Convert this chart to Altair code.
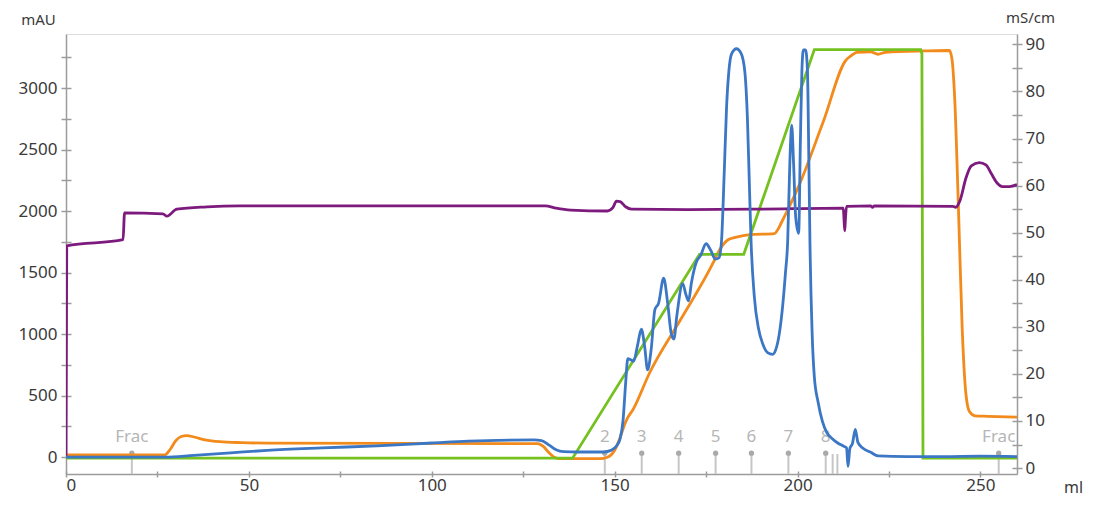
import altair as alt
import pandas as pd

# ---------------- data ----------------
blue_ml = [0, 27, 35, 45, 55, 70, 85, 100, 110, 118, 128, 130, 132, 134, 136, 140, 147, 149, 150.5, 151.5, 152.3,
           153, 153.6, 154.5, 155.2, 156.2, 157.3, 158.2, 159, 160, 161, 162, 163.4, 164.5, 165.5, 166.2, 167,
           168.6, 169.5, 170.2, 171, 172.4, 173.5, 175, 176.3, 177.5, 178.5, 179.2, 180, 180.6, 181.2, 182,
           183.3, 184.6, 185.6, 186.3, 186.8, 187.3, 188.2, 189.3, 190.5, 191.8, 193.2, 194, 195, 196, 196.7,
           197.3, 197.9, 198.4, 198.9, 199.5, 200.3, 200.8, 201.2, 201.6, 202.2, 202.7, 203.1, 203.4, 204,
           204.6, 205.6, 206.8, 208, 209.5, 211, 212.5, 213.4, 213.8, 214.3, 215, 215.8, 216.5, 218, 220, 222,
           230, 240, 250, 260]
blue_mau = [0, 0, 15, 35, 55, 75, 92, 115, 130, 137, 140, 135, 100, 60, 45, 42, 42, 55, 90, 150, 300,
            600, 800, 790, 780, 900, 1040, 900, 710, 880, 1200, 1250, 1455, 1250, 1000, 960, 1150,
            1410, 1320, 1270, 1420, 1590, 1640, 1735, 1680, 1610, 1620, 1750, 2350, 2850, 3130, 3280,
            3320, 3280, 3130, 2750, 2250, 1750, 1300, 1050, 920, 850, 836, 870, 1000, 1250, 1500,
            1750, 2400, 2700, 2400, 1950, 1820, 2600, 3150, 3310, 3310, 3150, 2400, 1736, 1000,
            650, 450, 290, 200, 150, 115, 90, 75, -75, 70, 110, 225, 120, 70, 40, 10,
            5, 5, 8, 5]

orange_ml = [0, 27, 28.5, 30, 31.5, 33, 35, 38, 42, 48, 55, 129, 130.5, 132, 133.5, 135, 146, 148, 150, 151.5,
             152.5, 153.5, 155, 159.6, 168, 176.8, 178.3, 179.5, 181, 183, 187, 193.7, 194.5, 195.5, 200.5,
             207, 213.4, 214, 215, 216.2, 220, 222, 224, 235, 241.5, 242.2, 243, 244, 245, 246, 247, 248.5,
             252, 260]
orange_ms = [2.8, 2.8, 4, 5.8, 6.7, 6.9, 6.6, 6.0, 5.6, 5.4, 5.3, 5.2, 4.6, 3.3, 2.3, 2.0, 2.0, 2.3, 3.8, 6.5,
             8.8, 10.6, 12.4, 20.3, 31.5, 43.4, 45.8, 47.3, 48.5, 49.0, 49.6, 49.8, 50.5, 52, 60.2,
             73.5, 86.8, 87.2, 87.8, 88.3, 88.4, 87.9, 88.3, 88.6, 88.7, 87, 78, 55, 30, 16, 12, 11.1,
             11, 10.8]

green_ml = [0, 138.5, 173.2, 185.3, 204.6, 233.7, 234.0, 234.3, 260]
green_val = [2.1, 2.1, 45.4, 45.4, 88.9, 88.9, 88.0, 2.1, 2.1]

purple_ml = [0, 0.2, 15.6, 16.0, 26.5, 27.6, 30.3, 38.5, 47.5, 131, 134, 138, 148, 149.5, 150.5, 151.5, 153,
             154.6, 170, 190, 212.5, 212.7, 212.9, 213.1, 213.4, 220, 220.5, 221, 242.5, 243.2, 244.5, 246,
             247.5, 249.7, 251.5, 253, 254.5, 256, 258, 260]
purple_val = [2.5, 47.2, 48.5, 54.2, 54.0, 53.5, 55.0, 55.5, 55.7, 55.7, 55.2, 54.8, 54.6, 55.3, 56.7, 56.6, 55.5,
              55.0, 54.9, 55.0, 55.2, 53, 50.4, 53, 55.6, 55.7, 55.4, 55.7, 55.6, 55.4, 57, 61.5,
              64.2, 64.9, 64.4, 62.5, 60.6, 59.8, 59.8, 60.2]

frac_ml = [18, 147.3, 157.4, 167.5, 177.6, 187.4, 197.5, 207.7, 255]
frac_labels = ["Frac", "2", "3", "4", "5", "6", "7", "8", "Frac"]
extra_frac_ml = [209.6, 210.9]

x_ticks_major = [0, 50, 100, 150, 200, 250]
x_ticks_minor = [0, 25, 50, 75, 100, 125, 150, 175, 200, 225, 250]
left_major = [0, 500, 1000, 1500, 2000, 2500, 3000]
left_minor = [0, 250, 500, 750, 1000, 1250, 1500, 1750, 2000, 2250, 2500, 2750, 3000, 3250]
right_major = [0, 10, 20, 30, 40, 50, 60, 70, 80, 90]
right_minor = [0, 5, 10, 15, 20, 25, 30, 35, 40, 45, 50, 55, 60, 65, 70, 75, 80, 85, 90]

# ---------------- tables ----------------
blue_df = pd.DataFrame({"ml": blue_ml, "v": blue_mau})
orange_df = pd.DataFrame({"ml": orange_ml, "v": orange_ms})
green_df = pd.DataFrame({"ml": green_ml, "v": green_val})
purple_df = pd.DataFrame({"ml": purple_ml, "v": purple_val})
frac_df = pd.DataFrame({"ml": frac_ml, "label": frac_labels})
extra_df = pd.DataFrame({"ml": extra_frac_ml})

X_DOM = [0, 260]
LEFT_DOM = [-137, 3440]
RIGHT_DOM = [-1.26, 92.2]
W, H = 951, 440

AXIS_GREY = "#9c9c9c"
LABEL_COL = "#3a3a3a"
FONT = "Noto Sans"
LW = 2.8


def xs():
    return alt.Scale(domain=X_DOM, nice=False, zero=False)


def ls():
    return alt.Scale(domain=LEFT_DOM, nice=False, zero=False)


def rs():
    return alt.Scale(domain=RIGHT_DOM, nice=False, zero=False)


x_main_axis = alt.Axis(orient="bottom", values=x_ticks_major, ticks=False, labelPadding=3,
                       labelFontSize=17, labelColor=LABEL_COL, labelFont=FONT, format="d",
                       domainColor=AXIS_GREY, domainWidth=1.5, grid=False,
                       title="ml", titleAngle=0, titleX=1007, titleY=13, titleAlign="center",
                       titleBaseline="middle", titleFontSize=16, titleFontWeight="normal",
                       titleColor=LABEL_COL, titleFont=FONT)
x_tick_axis = alt.Axis(orient="bottom", values=x_ticks_minor, labels=False, domain=False, offset=-3,
                       tickSize=6, tickColor=AXIS_GREY, tickWidth=1.5, grid=False, title=None)

left_main_axis = alt.Axis(orient="left", values=left_major, ticks=False, labelPadding=9,
                          labelFontSize=17, labelColor=LABEL_COL, labelFont=FONT, format="d",
                          domainColor=AXIS_GREY, domainWidth=1.5, grid=False,
                          title="mAU", titleAngle=0, titleX=-28, titleY=-15, titleAlign="center",
                          titleBaseline="middle", titleFontSize=15, titleFontWeight="normal",
                          titleColor=LABEL_COL, titleFont=FONT)
left_tick_axis = alt.Axis(orient="left", values=left_minor, labels=False, domain=False, offset=-5,
                          tickSize=10, tickColor=AXIS_GREY, tickWidth=1.5, grid=False, title=None)

right_main_axis = alt.Axis(orient="right", values=right_major, ticks=False, labelPadding=8,
                           labelFontSize=17, labelColor=LABEL_COL, labelFont=FONT, format="d",
                           domainColor=AXIS_GREY, domainWidth=1.5, grid=False,
                           title="mS/cm", titleAngle=0, titleX=13, titleY=-17, titleAlign="center",
                           titleBaseline="middle", titleFontSize=15, titleFontWeight="normal",
                           titleColor=LABEL_COL, titleFont=FONT)
right_tick_axis = alt.Axis(orient="right", values=right_minor, labels=False, domain=False, offset=-5,
                           tickSize=10, tickColor=AXIS_GREY, tickWidth=1.5, grid=False, title=None)

# fraction markers
frac_rules = alt.Chart(frac_df).mark_rule(color="#c6c6c6", strokeWidth=2).encode(
    x=alt.X("ml:Q", scale=xs(), axis=x_tick_axis),
    y=alt.Y("bot:Q", scale=ls(), axis=left_tick_axis),
    y2="top:Q",
).transform_calculate(bot="-137", top="32")

extra_rules = alt.Chart(extra_df).mark_rule(color="#c6c6c6", strokeWidth=2).encode(
    x=alt.X("ml:Q", scale=xs(), axis=None),
    y=alt.Y("bot:Q", scale=ls(), axis=None),
    y2="top:Q",
).transform_calculate(bot="-137", top="25")

frac_dots = alt.Chart(frac_df).mark_circle(color="#a9a9a9", size=28, opacity=1).encode(
    x=alt.X("ml:Q", scale=xs(), axis=None),
    y=alt.Y("top:Q", scale=ls(), axis=None),
).transform_calculate(top="32")

frac_text = alt.Chart(frac_df).mark_text(color="#b6b6b6", fontSize=17, font=FONT, baseline="middle",
                                         align="center").encode(
    x=alt.X("ml:Q", scale=xs(), axis=None),
    y=alt.Y("ty:Q", scale=ls(), axis=None),
    text="label:N",
).transform_calculate(ty="165")

orange = alt.Chart(orange_df).mark_line(color="#f28a1c", strokeWidth=LW, clip=True,
                                        interpolate="monotone").encode(
    x=alt.X("ml:Q", scale=xs(), axis=None),
    y=alt.Y("v:Q", scale=rs(), axis=right_main_axis),
)
green = alt.Chart(green_df).mark_line(color="#74c11f", strokeWidth=LW, clip=True).encode(
    x=alt.X("ml:Q", scale=xs(), axis=None),
    y=alt.Y("v:Q", scale=rs(), axis=right_tick_axis),
)
purple = alt.Chart(purple_df).mark_line(color="#7d1a7d", strokeWidth=LW, clip=True,
                                        interpolate="monotone").encode(
    x=alt.X("ml:Q", scale=xs(), axis=None),
    y=alt.Y("v:Q", scale=rs(), axis=None),
)
blue = alt.Chart(blue_df).mark_line(color="#3b77c4", strokeWidth=LW, clip=True,
                                    interpolate="monotone").encode(
    x=alt.X("ml:Q", scale=xs(), axis=x_main_axis),
    y=alt.Y("v:Q", scale=ls(), axis=left_main_axis),
)

chart = alt.layer(
    frac_rules, extra_rules, frac_dots, frac_text, orange, green, purple, blue
).resolve_scale(
    x="independent", y="independent"
).properties(
    width=W, height=H,
    autosize=alt.AutoSizeParams(type="none"),
    padding={"left": 58, "top": 26, "right": 69, "bottom": 26},
).configure_view(stroke=None).configure(background="white")

chart.save("out.html", embed_options={"renderer": "svg", "actions": False})
